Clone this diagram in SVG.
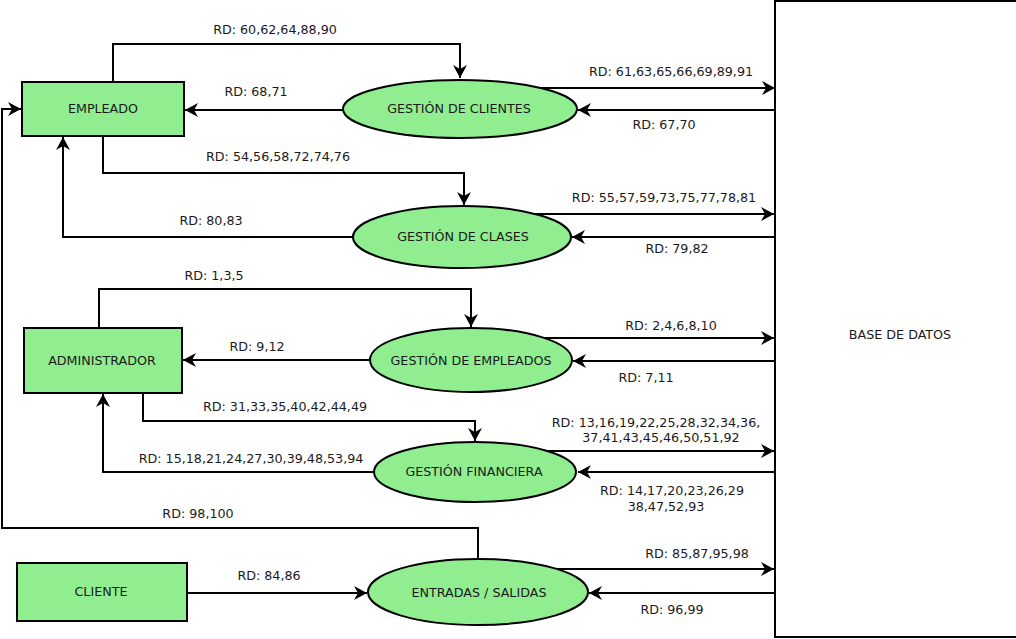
<svg xmlns="http://www.w3.org/2000/svg" width="1016" height="639" viewBox="0 0 1016 639">
<style>
.c{fill:none;stroke:#000;stroke-width:2;marker-end:url(#ah)}
.n{fill:none;stroke:#000;stroke-width:2}
.box{fill:#90ee90;stroke:#000;stroke-width:2}
.t{font-family:"DejaVu Sans",Verdana,sans-serif;font-size:12.7px;fill:#1a1a1a;text-anchor:middle}
</style>
<defs>
<marker id="ah" markerUnits="userSpaceOnUse" markerWidth="16" markerHeight="16" viewBox="-14 -8 16 16" refX="0" refY="0" orient="auto">
<path d="M0,0 L-13,-7 L-9,0 L-13,7 Z" fill="#000"/>
</marker>
</defs>
<rect width="1016" height="639" fill="#fff"/>
<g id="connectors">
<polyline class="c" points="113,82 113,44 460,44 460,78"/>
<line class="c" x1="343" y1="110" x2="185" y2="110"/>
<line class="c" x1="541" y1="88" x2="775" y2="88"/>
<line class="c" x1="775" y1="110" x2="578" y2="110"/>
<polyline class="c" points="103,136 103,173 464,173 464,205"/>
<polyline class="c" points="353,237 63,237 63,137"/>
<line class="c" x1="535" y1="214" x2="774" y2="214"/>
<line class="c" x1="774" y1="237" x2="572" y2="237"/>
<polyline class="c" points="99,328 99,289 471,289 471,327"/>
<line class="c" x1="371" y1="360" x2="183" y2="360"/>
<line class="c" x1="544" y1="338" x2="774" y2="338"/>
<line class="c" x1="774" y1="361" x2="573" y2="361"/>
<polyline class="c" points="143,393 143,421 475,421 475,441"/>
<polyline class="c" points="374,472 103,472 103,394"/>
<line class="c" x1="547" y1="451" x2="774" y2="451"/>
<line class="c" x1="774" y1="472" x2="578" y2="472"/>
<polyline class="c" points="478,559 478,528 2,528 2,109 21,109"/>
<line class="c" x1="187" y1="593" x2="367" y2="593"/>
<line class="c" x1="557" y1="569" x2="774" y2="569"/>
<line class="c" x1="774" y1="593" x2="589" y2="593"/>
<text class="t" x="275" y="34">RD: 60,62,64,88,90</text>
<text class="t" x="256" y="96">RD: 68,71</text>
<text class="t" x="671" y="76">RD: 61,63,65,66,69,89,91</text>
<text class="t" x="664" y="129">RD: 67,70</text>
<text class="t" x="278" y="161">RD: 54,56,58,72,74,76</text>
<text class="t" x="211" y="225">RD: 80,83</text>
<text class="t" x="664" y="202">RD: 55,57,59,73,75,77,78,81</text>
<text class="t" x="677" y="253">RD: 79,82</text>
<text class="t" x="214" y="280">RD: 1,3,5</text>
<text class="t" x="257" y="351">RD: 9,12</text>
<text class="t" x="671" y="330">RD: 2,4,6,8,10</text>
<text class="t" x="646" y="382">RD: 7,11</text>
<text class="t" x="285" y="411">RD: 31,33,35,40,42,44,49</text>
<text class="t" x="251" y="463">RD: 15,18,21,24,27,30,39,48,53,94</text>
<text class="t" x="656" y="427">RD: 13,16,19,22,25,28,32,34,36,</text>
<text class="t" x="661" y="442">37,41,43,45,46,50,51,92</text>
<text class="t" x="672" y="495">RD: 14,17,20,23,26,29</text>
<text class="t" x="666" y="511">38,47,52,93</text>
<text class="t" x="198" y="518">RD: 98,100</text>
<text class="t" x="269" y="580">RD: 84,86</text>
<text class="t" x="697" y="558">RD: 85,87,95,98</text>
<text class="t" x="672" y="614">RD: 96,99</text>
</g>
<g id="empleado"><rect class="box" x="22" y="82" width="162" height="54"/><text class="t" x="103" y="113">EMPLEADO</text></g>
<g id="administrador"><rect class="box" x="24" y="328" width="158" height="65"/><text class="t" x="102" y="365">ADMINISTRADOR</text></g>
<g id="cliente"><rect class="box" x="17" y="563" width="170" height="58"/><text class="t" x="101" y="596">CLIENTE</text></g>
<g id="gestion-clientes"><ellipse class="box" cx="460" cy="109" rx="117" ry="29"/><text class="t" x="459" y="113">GESTIÓN DE CLIENTES</text></g>
<g id="gestion-clases"><ellipse class="box" cx="462" cy="237" rx="109" ry="31"/><text class="t" x="463" y="241">GESTIÓN DE CLASES</text></g>
<g id="gestion-empleados"><ellipse class="box" cx="471" cy="360" rx="101" ry="32"/><text class="t" x="471" y="365">GESTIÓN DE EMPLEADOS</text></g>
<g id="gestion-financiera"><ellipse class="box" cx="475" cy="472" rx="101" ry="30"/><text class="t" x="474" y="476">GESTIÓN FINANCIERA</text></g>
<g id="entradas-salidas"><ellipse class="box" cx="478" cy="592" rx="110" ry="33"/><text class="t" x="479" y="597">ENTRADAS / SALIDAS</text></g>
<g id="base-de-datos"><rect x="775" y="1" width="260" height="636" fill="#fff" stroke="#000" stroke-width="2"/><text class="t" x="900" y="339">BASE DE DATOS</text></g>
</svg>
